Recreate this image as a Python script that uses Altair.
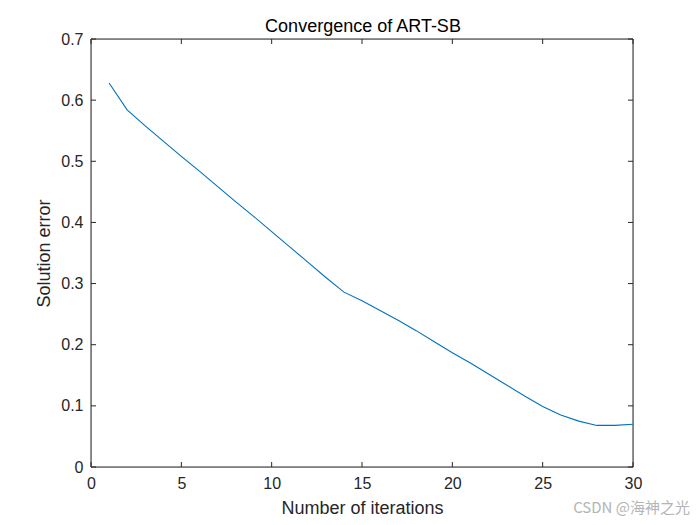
import altair as alt
import pandas as pd

iterations = list(range(1, 31))
errors = [0.628, 0.584, 0.558, 0.533, 0.508, 0.484, 0.459, 0.434, 0.410, 0.385,
          0.360, 0.335, 0.310, 0.286, 0.272, 0.256, 0.240, 0.223, 0.205, 0.187,
          0.170, 0.152, 0.134, 0.116, 0.099, 0.085, 0.075, 0.068, 0.068, 0.070]
x_ticks = [0, 5, 10, 15, 20, 25, 30]
y_ticks = [0, 0.1, 0.2, 0.3, 0.4, 0.5, 0.6, 0.7]
title_text = ["Convergence of ART-SB"]
watermark = ["CSDN @海神之光"]

W, H = 542, 428
AX = "#262626"
FONT = "Liberation Sans"

df = pd.DataFrame({"it": iterations, "err": errors})
xs = alt.Scale(domain=[0, 30], nice=False, zero=False)
ys = alt.Scale(domain=[0, 0.7], nice=False, zero=False)

line = alt.Chart(df).mark_line(color="#0072BD", strokeWidth=1.1, clip=True).encode(
    x=alt.X("it:Q", scale=xs, title="Number of iterations",
            axis=alt.Axis(values=x_ticks, ticks=False, domain=False, grid=False,
                          labelFontSize=16, labelColor=AX, labelPadding=8,
                          labelFlush=False,
                          titleFontSize=18, titleColor=AX, titleFontWeight="normal",
                          titlePadding=8, labelFont=FONT, titleFont=FONT,
                          format="d")),
    y=alt.Y("err:Q", scale=ys, title="Solution error",
            axis=alt.Axis(values=y_ticks, ticks=False, domain=False, grid=False,
                          labelFontSize=16, labelColor=AX, labelPadding=8,
                          labelFlush=False,
                          titleFontSize=18, titleColor=AX, titleFontWeight="normal",
                          titlePadding=7, labelFont=FONT, titleFont=FONT,
                          labelExpr="datum.value == 0 ? '0' : format(datum.value, '.1f')")),
)

xt = pd.DataFrame({"v": x_ticks})
yt = pd.DataFrame({"v": y_ticks})
rule = dict(color=AX, strokeWidth=1)
bottom = alt.Chart(xt).mark_rule(**rule).encode(
    x=alt.X("v:Q", scale=xs), y=alt.value(H), y2=alt.value(H - 5))
top = alt.Chart(xt).mark_rule(**rule).encode(
    x=alt.X("v:Q", scale=xs), y=alt.value(0), y2=alt.value(5))
left = alt.Chart(yt).mark_rule(**rule).encode(
    y=alt.Y("v:Q", scale=ys), x=alt.value(0), x2=alt.value(5))
right = alt.Chart(yt).mark_rule(**rule).encode(
    y=alt.Y("v:Q", scale=ys), x=alt.value(W), x2=alt.value(W - 5))

frame_df = pd.DataFrame({"k": [0]})
f_top = alt.Chart(frame_df).mark_rule(**rule).encode(
    x=alt.value(0), x2=alt.value(W), y=alt.value(0))
f_bot = alt.Chart(frame_df).mark_rule(**rule).encode(
    x=alt.value(0), x2=alt.value(W), y=alt.value(H))
f_left = alt.Chart(frame_df).mark_rule(**rule).encode(
    y=alt.value(0), y2=alt.value(H), x=alt.value(0))
f_right = alt.Chart(frame_df).mark_rule(**rule).encode(
    y=alt.value(0), y2=alt.value(H), x=alt.value(W))

ttl = alt.Chart(pd.DataFrame({"t": title_text})).mark_text(
    align="center", baseline="alphabetic", fontSize=18, font=FONT,
    color="#000000").encode(text="t:N", x=alt.value(W / 2 + 1), y=alt.value(-7.5))

wm = alt.Chart(pd.DataFrame({"t": watermark})).mark_text(
    align="right", baseline="middle", fontSize=15, color="#b4b4b4",
    font="Noto Sans CJK SC").encode(
    text="t:N", x=alt.value(W + 57), y=alt.value(H + 41))

chart = alt.layer(bottom, top, left, right, f_top, f_bot, f_left, f_right,
                  line, ttl, wm).properties(
    width=W, height=H,
    autosize=alt.AutoSizeParams(type="none"),
    padding={"left": 91, "top": 39, "right": 67, "bottom": 58},
).configure_view(stroke=None).configure(background="white")

chart.save("out.html", embed_options={"renderer": "svg", "actions": False})
